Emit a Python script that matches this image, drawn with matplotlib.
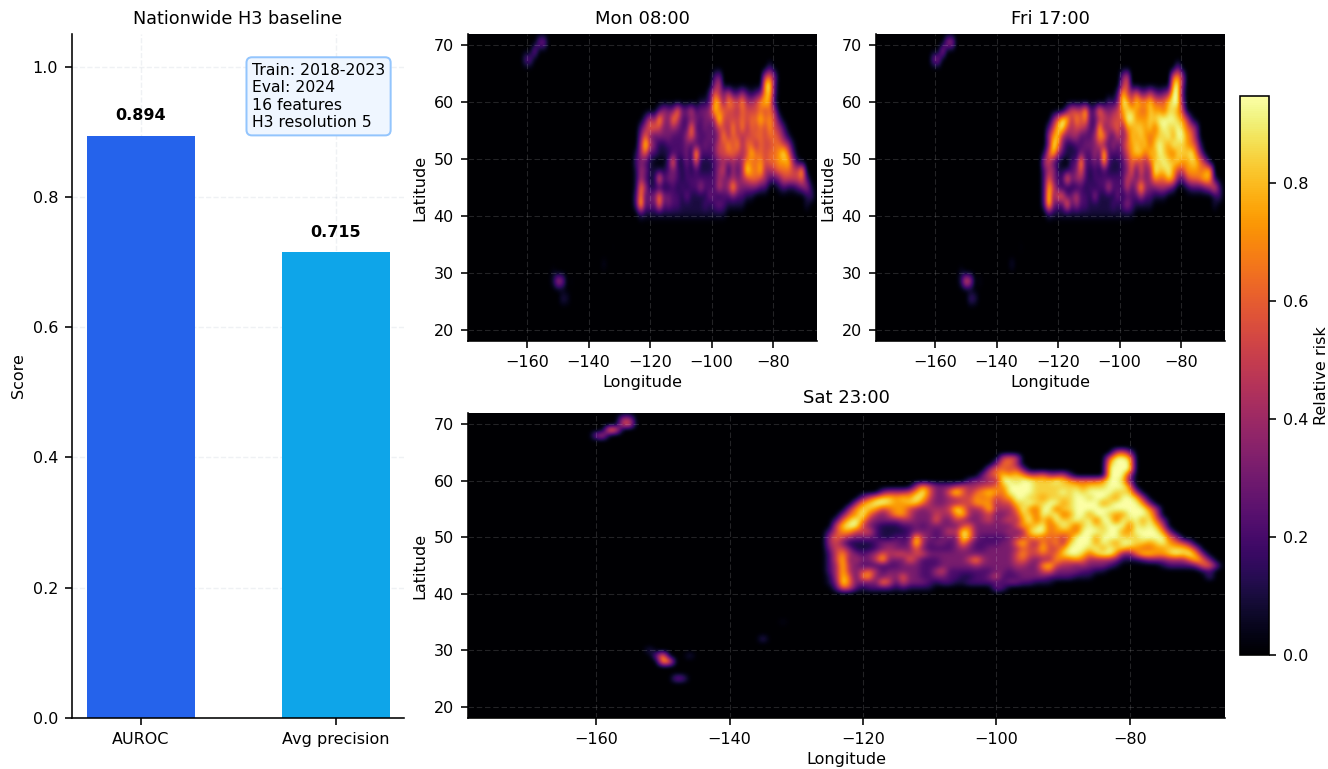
import matplotlib
matplotlib.use("Agg")
import matplotlib.pyplot as plt
import numpy as np

# bar panel
metric_names = ["AUROC", "Avg precision"]
metric_values = [0.894, 0.715]
metric_colors = ["#2563EB", "#0EA5E9"]
info_text = "Train: 2018-2023\nEval: 2024\n16 features\nH3 resolution 5"

# risk, one digit per cell (digit / 9.5 = risk)
# mon and fri: 1.5 deg cells, rows from lat 66 down, columns from lon -126
mon_rows = [
    "00000 00000 00000 00000 00000 00000 20000 00000 0",
    "00000 00000 00000 00023 00000 00005 63000 00000 0",
    "00000 00000 00000 00035 00000 00008 92000 00000 0",
    "00000 00000 00000 00264 35224 21237 82000 00000 0",
    "00000 00000 00000 11287 37657 44578 71000 00000 0",
    "00000 02433 73352 33486 65546 55565 64000 00000 0",
    "00025 38437 52233 23349 55556 56686 75200 00000 0",
    "00246 65334 32272 23235 54747 46565 75420 00000 0",
    "00363 23332 22463 22324 74654 55665 66531 00000 0",
    "00495 31122 22322 23235 57574 66465 56654 10000 0",
    "01462 21112 22319 22235 56654 58665 66796 20000 0",
    "02321 00027 11316 11123 43434 76675 66778 41000 0",
    "01431 11123 21212 11124 51424 97684 45666 55800 0",
    "01421 17233 21222 22224 33434 56654 22355 55620 0",
    "01741 11112 12122 42225 34843 33322 00121 12341 0",
    "02723 37332 21311 11321 22322 11000 00000 00012 0",
    "02923 27232 21111 12123 21111 00000 00000 00010 0",
    "00211 11111 11111 11111 10000 00000 00000 00000 0",
]
fri_rows = [
    "00000 00000 00000 00000 00000 00000 30000 00000 0",
    "00000 00000 00000 00035 00000 00006 74000 00000 0",
    "00000 00000 00000 00046 00000 00008 93000 00000 0",
    "00000 00000 00000 00285 46335 32349 92000 00000 0",
    "00000 00000 00000 21398 58778 66689 93000 00000 0",
    "00000 03655 82374 34578 87668 77688 75000 00000 0",
    "00036 98475 72245 45569 97778 89999 87510 00000 0",
    "00258 95455 42283 45637 78878 68988 98653 00000 0",
    "00478 43442 22477 32535 87876 78897 99763 00000 0",
    "00397 31122 33353 24246 78786 89879 88765 10000 0",
    "01684 21113 22429 22235 78868 79876 88896 30000 0",
    "04521 00228 22328 21124 65546 88988 87788 64000 0",
    "02441 11236 21212 11123 62634 98897 55777 67800 0",
    "02632 27344 21222 22225 43434 76687 32566 78710 0",
    "02852 11112 12122 52225 24843 34432 00122 23462 0",
    "02936 62352 21411 11312 22422 11100 00000 00012 0",
    "02932 27242 21111 12124 21111 00000 00000 00010 0",
    "00211 11111 11111 11111 10000 00000 00000 00000 0",
]
# sat: 1 deg cells, rows from lat 66 to 40, columns from lon -126 to -66
sat_rows = [
    "00000 00000 00000 00000 00000 00000 00000 00000 00000 00000 00000 00000 0",
    "00000 00000 00000 00000 00000 00000 00000 00000 00005 63000 00000 00000 0",
    "00000 00000 00000 00000 00000 00565 00000 00000 00069 98000 00000 00000 0",
    "00000 00000 00000 00000 00000 03664 00000 00000 00089 99000 00000 00000 0",
    "00000 00000 00000 00000 00000 46656 30000 00000 00099 99000 00000 00000 0",
    "00000 00000 00000 00000 00003 56878 75564 45200 00099 94000 00000 00000 0",
    "00000 00000 00000 00000 00233 44998 99888 98766 66799 83000 00000 00000 0",
    "00000 00000 00004 75333 45445 56799 99888 88887 88899 97000 00000 00000 0",
    "00000 00003 44457 96336 96467 87699 99888 89898 99998 88400 00000 00000 0",
    "00000 03578 87879 85334 55576 75679 98878 88899 89987 99840 00000 00000 0",
    "00000 47899 87788 64334 45577 74558 89889 97899 99789 99973 00000 00000 0",
    "00004 78875 67754 34445 97445 84446 97699 68899 99999 99997 40000 00000 0",
    "00036 79643 57753 33544 78434 53345 88698 96799 79987 79998 50000 00000 0",
    "00268 97433 33443 33633 54334 53454 79686 98898 96996 98979 63000 00000 0",
    "00589 95321 11223 23333 35633 33335 77896 79868 98899 96989 85000 00000 0",
    "02577 55521 11123 33235 49733 33343 48996 77769 99899 77999 97300 00000 0",
    "04654 33321 12228 43233 39732 22234 56766 65699 97999 88899 99640 00000 0",
    "04531 11123 33239 42332 37422 22336 85475 74899 97987 99887 89765 30000 0",
    "03553 11123 43336 32222 34322 33334 65585 57999 89798 87766 77888 74000 0",
    "02574 32346 45545 53333 33333 33335 75565 68998 68997 33688 77898 97300 0",
    "02583 43358 33364 22233 33574 33335 64344 76676 44443 11123 33444 68630 0",
    "02484 32222 22333 22233 33343 33334 43378 54434 33321 00000 01222 23663 0",
    "02484 35642 33333 22452 22222 23323 33356 33332 21100 00000 00000 00120 0",
    "01486 27733 43633 22332 21122 35222 33332 22211 10000 00000 00000 00020 0",
    "01396 33337 52533 32122 11222 22233 22111 00000 00000 00000 00000 00000 0",
    "00265 21222 21211 11000 00000 03200 00000 00000 00000 00000 00000 00000 0",
    "00000 00000 00000 00000 00000 00000 00000 00000 00000 00000 00000 00000 0",
]

# small spots away from the main blob
spot_lon = [-160, -159, -158, -157, -156, -155, -156, -155,
            -152, -151, -150, -150, -149, -148, -147, -146, -135, -132]
spot_lat = [68, 68, 69, 69, 70, 70, 71, 71,
            30, 29, 28, 29, 28, 25, 25, 29, 32, 35]
mon_spots = [0.25, 0.28, 0.35, 0.30, 0.32, 0.35, 0.22, 0.22,
             0.05, 0.10, 0.50, 0.42, 0.38, 0.14, 0.10, 0.02, 0.06, 0.01]
fri_spots = [0.32, 0.38, 0.45, 0.40, 0.42, 0.45, 0.30, 0.30,
             0.08, 0.15, 0.68, 0.55, 0.50, 0.22, 0.16, 0.05, 0.10, 0.02]
sat_spots = [0.35, 0.50, 0.78, 0.60, 0.55, 0.60, 0.40, 0.40,
             0.15, 0.28, 0.85, 0.78, 0.70, 0.32, 0.26, 0.12, 0.18, 0.05]

VMAX = 0.947


def make_grid(rows, spots, step):
    lons = np.arange(-126.0, -180.0, -step)[::-1]
    lons = np.concatenate([lons, np.arange(-126.0 + step, -65.0, step)])
    lats = np.concatenate([np.arange(66.0 + 6 // step * step, 66.0, -step),
                           np.arange(66.0, 17.0, -step)])
    grid = np.zeros((len(lats), len(lons)))
    top = np.argmin(np.abs(lats - 66.0))
    left = np.argmin(np.abs(lons + 126.0))
    for i, row in enumerate(rows):
        for j, c in enumerate(row.replace(" ", "")):
            grid[top + i, left + j] = int(c) / 9.5
    for lon, lat, v in zip(spot_lon, spot_lat, spots):
        r = np.argmin(np.abs(lats - lat))
        k = np.argmin(np.abs(lons - lon))
        grid[r, k] = max(grid[r, k], v)
    extent = [lons[0] - step / 2, lons[-1] + step / 2, lats[-1] - step / 2, lats[0] + step / 2]
    return grid, extent


def px_axes(fig, x0, y0, x1, y1):
    w, h = 1328.0, 769.0
    return fig.add_axes([x0 / w, 1 - y1 / h, (x1 - x0) / w, (y1 - y0) / h])


def draw_map(ax, rows, spots, step, title):
    grid, extent = make_grid(rows, spots, step)
    im = ax.imshow(grid, cmap="inferno", vmin=0, vmax=VMAX, aspect="auto",
                   interpolation="bicubic", extent=extent)
    ax.set_xlim(-179.25, -65.7)
    ax.set_ylim(18, 72)
    ax.set_xticks([-160, -140, -120, -100, -80])
    ax.set_yticks([20, 30, 40, 50, 60, 70])
    ax.set_xlabel("Longitude", labelpad=2.5)
    ax.set_ylabel("Latitude", labelpad=3)
    ax.set_title(title, fontsize=9, pad=5)
    ax.grid(True, color="white", alpha=0.14, linestyle=(0, (5, 2.5)), linewidth=0.55)
    ax.spines["top"].set_visible(False)
    ax.spines["right"].set_visible(False)
    return im


plt.rcParams["font.size"] = 8
fig = plt.figure(figsize=(1328 / 144, 769 / 144), dpi=144)

ax = px_axes(fig, 72, 34, 404, 718)
ax.bar(metric_names, metric_values, width=0.55, color=metric_colors, zorder=2)
for i, v in enumerate(metric_values):
    ax.text(i, v + 0.019, "%.3f" % v, ha="center", va="bottom", fontweight="bold", fontsize=8)
ax.set_xlim(-0.354, 1.349)
ax.set_ylim(0, 1.05)
ax.set_ylabel("Score", labelpad=3)
ax.set_title("Nationwide H3 baseline", fontsize=8.8, pad=5)
ax.grid(True, color="#94A3B8", alpha=0.15, linestyle="--", linewidth=0.7, zorder=3)
ax.spines["top"].set_visible(False)
ax.spines["right"].set_visible(False)
ax.text(0.542, 0.958, info_text, transform=ax.transAxes, va="top", ha="left", fontsize=7.8,
        linespacing=1.2, zorder=5,
        bbox=dict(boxstyle="round,pad=0.35", facecolor="#EFF6FF", edgecolor="#93C5FD", linewidth=1))

ax_mon = px_axes(fig, 468, 34, 817, 341)
ax_fri = px_axes(fig, 876, 34, 1225, 341)
ax_sat = px_axes(fig, 468, 413, 1225, 718)
draw_map(ax_mon, mon_rows, mon_spots, 1.5, "Mon 08:00")
draw_map(ax_fri, fri_rows, fri_spots, 1.5, "Fri 17:00")
im = draw_map(ax_sat, sat_rows, sat_spots, 1.0, "Sat 23:00")

cax = px_axes(fig, 1240, 96, 1269, 655)
cb = fig.colorbar(im, cax=cax)
cb.set_label("Relative risk", labelpad=3)
cb.set_ticks([0, 0.2, 0.4, 0.6, 0.8])

fig.savefig("out.png", dpi=144)
